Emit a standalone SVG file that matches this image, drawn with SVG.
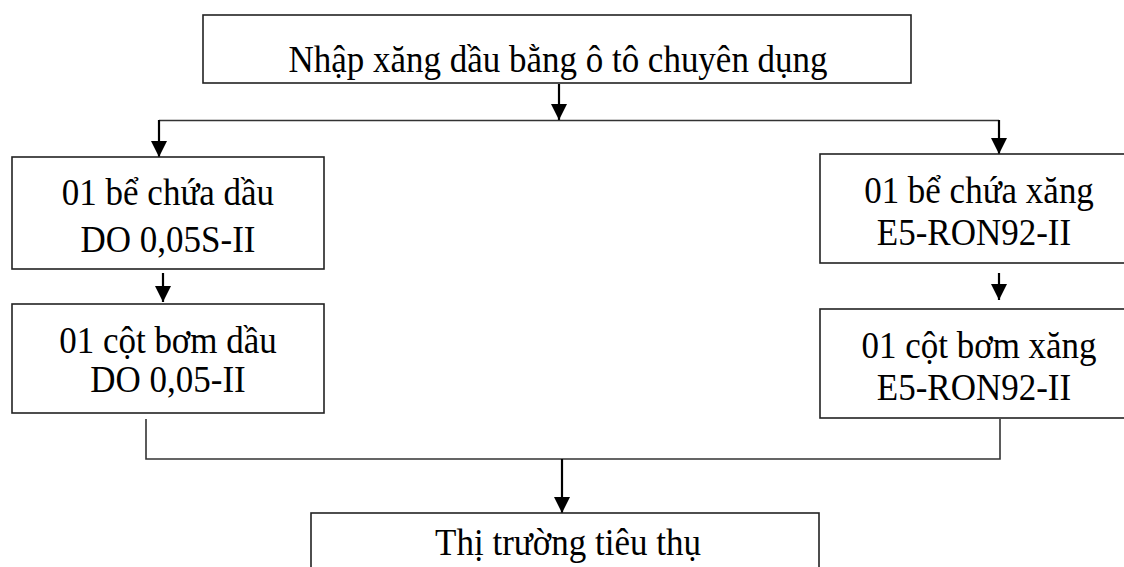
<svg xmlns="http://www.w3.org/2000/svg" width="1124" height="567" viewBox="0 0 1124 567">
<style>
.box{fill:#fff;stroke:#222;stroke-width:1.6}
.t{font-family:"Liberation Serif","Times New Roman",serif;font-size:35px;fill:#000;text-anchor:middle}
.ln{fill:none;stroke:#333;stroke-width:1.6}
.ar{fill:none;stroke:#000;stroke-width:2.2;marker-end:url(#ah)}
</style>
<defs>
<marker id="ah" markerUnits="userSpaceOnUse" markerWidth="16" markerHeight="16" refX="16" refY="8" orient="auto">
<path d="M0,0 L16,8 L0,16 z" fill="#000"/>
</marker>
</defs>
<rect width="1124" height="567" fill="#fff"/>
<g id="connectors">
<line class="ar" x1="559" y1="84" x2="559" y2="120"/>
<line class="ln" x1="159" y1="120.5" x2="999" y2="120.5"/>
<line class="ar" x1="159" y1="120" x2="159" y2="157"/>
<line class="ar" x1="999" y1="120" x2="999" y2="154"/>
<line class="ar" x1="163" y1="273" x2="163" y2="302"/>
<line class="ar" x1="999" y1="273" x2="999" y2="300"/>
<polyline class="ln" points="146,419 146,459 1000,459 1000,419"/>
<line class="ar" x1="562" y1="459" x2="562" y2="513"/>
</g>
<g id="n-import">
<rect class="box" x="203" y="15" width="708" height="68"/>
<text class="t" transform="translate(558,72) scale(1,1.08)">Nhập xăng dầu bằng ô tô chuyên dụng</text>
</g>
<g id="n-tank-do">
<rect class="box" x="12" y="157" width="312" height="112"/>
<text class="t" transform="translate(168,205) scale(1,1.08)">01 bể chứa dầu</text>
<text class="t" transform="translate(168,252) scale(1,1.08)">DO 0,05S-II</text>
</g>
<g id="n-pump-do">
<rect class="box" x="12" y="304" width="312" height="109"/>
<text class="t" transform="translate(168,353) scale(1,1.08)">01 cột bơm dầu</text>
<text class="t" transform="translate(168,392) scale(1,1.08)">DO 0,05-II</text>
</g>
<g id="n-tank-e5">
<rect class="box" x="820" y="154" width="320" height="109"/>
<text class="t" transform="translate(979,203) scale(1,1.08)">01 bể chứa xăng</text>
<text class="t" transform="translate(974,245) scale(1,1.08)">E5-RON92-II</text>
</g>
<g id="n-pump-e5">
<rect class="box" x="820" y="309" width="320" height="109"/>
<text class="t" transform="translate(979,358) scale(1,1.08)">01 cột bơm xăng</text>
<text class="t" transform="translate(974,400) scale(1,1.08)">E5-RON92-II</text>
</g>
<g id="n-market">
<rect class="box" x="311" y="513" width="508" height="80"/>
<text class="t" transform="translate(568,555) scale(1,1.08)">Thị trường tiêu thụ</text>
</g>
</svg>
